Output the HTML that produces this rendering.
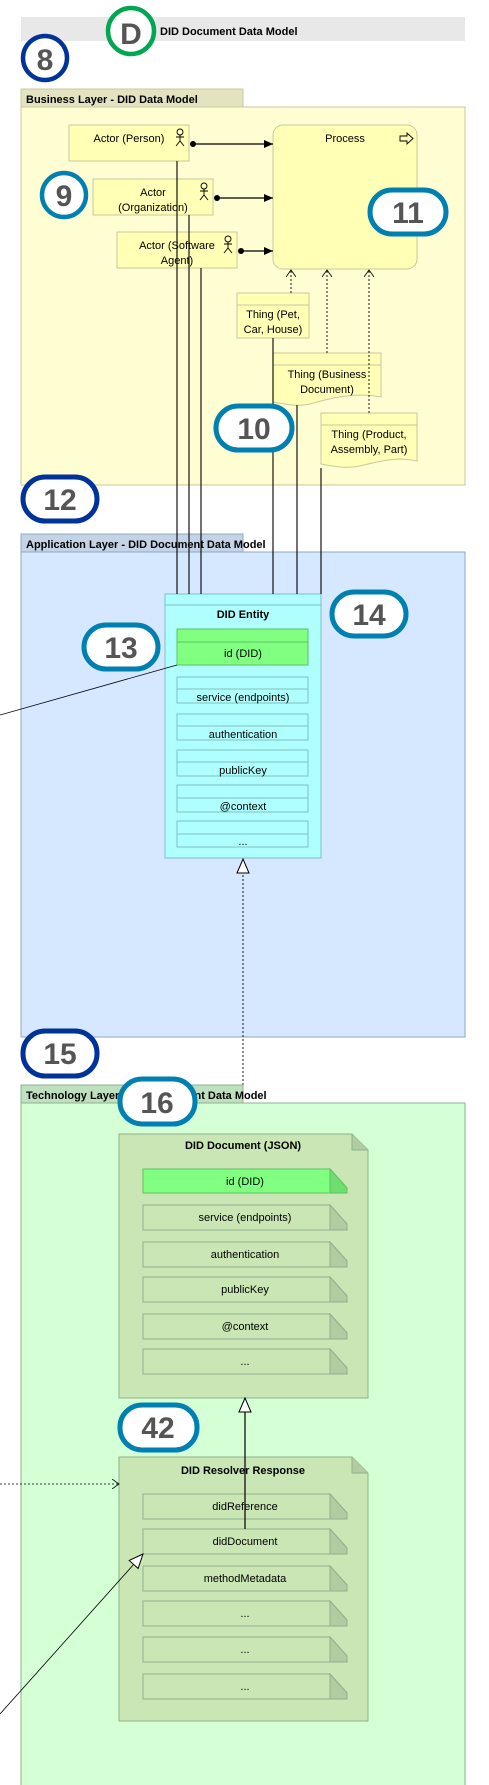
<!DOCTYPE html>
<html><head><meta charset="utf-8"><style>
html,body{margin:0;padding:0;background:#fff;width:489px;height:1785px;overflow:hidden}
svg{display:block}
text{font-family:"Liberation Sans","DejaVu Sans",sans-serif;font-size:11px;fill:#000}
.b{font-weight:bold}
.n{font-weight:bold;font-size:30px;fill:#555}
</style></head><body>
<svg width="489" height="1785" viewBox="0 0 489 1785" xmlns="http://www.w3.org/2000/svg">
<defs>
<marker id="ah" markerWidth="10" markerHeight="8" refX="9" refY="4" orient="auto" markerUnits="userSpaceOnUse"><path d="M0,0 L9,4 L0,8 Z" fill="#000"/></marker>
<marker id="oa" markerWidth="8" markerHeight="10" refX="7" refY="5" orient="auto" markerUnits="userSpaceOnUse"><path d="M0,0 L7,5 L0,10" fill="none" stroke="#000" stroke-width="0.8"/></marker>
<marker id="tri" markerWidth="16" markerHeight="14" refX="15" refY="7" orient="auto" markerUnits="userSpaceOnUse"><path d="M1,1 L15,7 L1,13 Z" fill="#fff" stroke="#000" stroke-width="1"/></marker>
</defs>

<!-- title -->
<rect x="21" y="17" width="444" height="24" fill="#e8e8e8"/>
<text x="160" y="35" class="b" font-size="12">DID Document Data Model</text>
<circle cx="131" cy="31" r="23" fill="#fff" stroke="#00a650" stroke-width="4.5"/>
<text x="131" y="44" text-anchor="middle" class="n" font-size="38">D</text>
<circle cx="45" cy="58" r="22" fill="#fff" stroke="#003399" stroke-width="4.5"/>
<text x="45" y="70" text-anchor="middle" class="n" font-size="32">8</text>

<!-- business layer -->
<rect x="21" y="89" width="222" height="18" fill="#e3e3c0" stroke="#c8c8a0"/>
<text x="26" y="103" class="b">Business Layer - DID Data Model</text>
<rect x="21" y="107" width="444" height="378" fill="#fffdd2" stroke="#c8c8a0"/>

<rect x="69" y="125" width="120" height="36" fill="#ffffb5" stroke="#c8c8a0"/>
<text x="129" y="142" text-anchor="middle">Actor (Person)</text>
<rect x="93" y="179" width="120" height="36" fill="#ffffb5" stroke="#c8c8a0"/>
<text x="153" y="196" text-anchor="middle">Actor</text><text x="153" y="211" text-anchor="middle">(Organization)</text>
<rect x="117" y="232" width="120" height="36" fill="#ffffb5" stroke="#c8c8a0"/>
<text x="177" y="249" text-anchor="middle">Actor (Software</text><text x="177" y="264" text-anchor="middle">Agent)</text>
<g fill="none" stroke="#000" stroke-width="0.9">
<g id="st"><circle cx="180" cy="132" r="3"/><path d="M180,135 V141 M176,137 H184 M176,146 L180,141 L184,146"/></g>
<use href="#st" x="24" y="54"/><use href="#st" x="48" y="107"/>
</g>

<rect x="273" y="125" width="144" height="144" rx="10" fill="#ffffb5" stroke="#c8c8a0"/>
<text x="345" y="142" text-anchor="middle">Process</text>
<path d="M400,136 H407 V133 L413,138.5 L407,144 V141 H400 Z" fill="none" stroke="#000" stroke-width="0.9"/>

<g stroke="#000" stroke-width="1.2">
<line x1="193" y1="144" x2="273" y2="144" marker-end="url(#ah)"/>
<line x1="217" y1="198" x2="273" y2="198" marker-end="url(#ah)"/>
<line x1="241" y1="251" x2="273" y2="251" marker-end="url(#ah)"/>
</g>
<circle cx="193" cy="144" r="3" fill="#000"/><circle cx="217" cy="198" r="3" fill="#000"/><circle cx="241" cy="251" r="3" fill="#000"/>

<!-- things -->
<rect x="237" y="293" width="72" height="45" fill="#ffffb5" stroke="#c8c8a0"/>
<line x1="237" y1="305" x2="309" y2="305" stroke="#c8c8a0"/>
<text x="273" y="318" text-anchor="middle">Thing (Pet,</text><text x="273" y="333" text-anchor="middle">Car, House)</text>
<path d="M273,353 H381 V397 C355,392 330,398 310,404 C295,407 285,404 273,402 Z" fill="#ffffb5" stroke="#c8c8a0"/>
<line x1="273" y1="365" x2="381" y2="365" stroke="#c8c8a0"/>
<text x="327" y="378" text-anchor="middle">Thing (Business</text><text x="327" y="393" text-anchor="middle">Document)</text>
<path d="M321,413 H417 V461 C395,456 378,462 360,466 C345,469 333,466 321,464 Z" fill="#ffffb5" stroke="#c8c8a0"/>
<line x1="321" y1="425" x2="417" y2="425" stroke="#c8c8a0"/>
<text x="369" y="438" text-anchor="middle">Thing (Product,</text><text x="369" y="453" text-anchor="middle">Assembly, Part)</text>
<g stroke="#000" stroke-width="0.9" stroke-dasharray="2,2" fill="none">
<line x1="291" y1="293" x2="291" y2="270" marker-end="url(#oa)"/>
<line x1="327" y1="353" x2="327" y2="270" marker-end="url(#oa)"/>
<line x1="369" y1="413" x2="369" y2="270" marker-end="url(#oa)"/>
</g>

<!-- application layer -->
<rect x="21" y="534" width="222" height="18" fill="#c4d4e6" stroke="#90a8c0"/>
<rect x="21" y="552" width="444" height="485" fill="#d5e8ff" stroke="#90a8c0"/>
<text x="26" y="548" class="b">Application Layer - DID Document Data Model</text>

<rect x="165" y="594" width="156" height="264" fill="#b0ffff" stroke="#80c0c0"/>
<line x1="165" y1="605" x2="321" y2="605" stroke="#80c0c0"/>
<text x="243" y="618" text-anchor="middle" class="b">DID Entity</text>
<rect x="177" y="629" width="131" height="36" fill="#80ff80" stroke="#60c060"/>
<line x1="177" y1="642" x2="308" y2="642" stroke="#60c060"/>
<text x="243" y="657" text-anchor="middle">id (DID)</text>
<g fill="none" stroke="#80c0c0">
<rect x="177" y="677" width="131" height="26"/><line x1="177" y1="689" x2="308" y2="689"/>
<rect x="177" y="714" width="131" height="26"/><line x1="177" y1="726" x2="308" y2="726"/>
<rect x="177" y="750" width="131" height="26"/><line x1="177" y1="762" x2="308" y2="762"/>
<rect x="177" y="785" width="131" height="27"/><line x1="177" y1="798" x2="308" y2="798"/>
<rect x="177" y="821" width="131" height="26"/><line x1="177" y1="834" x2="308" y2="834"/>
</g>
<text x="243" y="701" text-anchor="middle">service (endpoints)</text>
<text x="243" y="738" text-anchor="middle">authentication</text>
<text x="243" y="774" text-anchor="middle">publicKey</text>
<text x="243" y="810" text-anchor="middle">@context</text>
<text x="243" y="845" text-anchor="middle">...</text>

<!-- vertical lines -->
<g stroke="#000" stroke-width="1.1">
<line x1="177" y1="161" x2="177" y2="594"/><line x1="189" y1="215" x2="189" y2="594"/><line x1="201" y1="268" x2="201" y2="594"/>
<line x1="273" y1="338" x2="273" y2="594"/><line x1="297" y1="405" x2="297" y2="594"/><line x1="321" y1="468" x2="321" y2="594"/>
</g>
<line x1="177" y1="665" x2="0" y2="715" stroke="#000" stroke-width="0.8"/>

<!-- dotted realization -->
<line x1="243" y1="1133" x2="243" y2="859" stroke="#000" stroke-width="0.9" stroke-dasharray="2,2" marker-end="url(#tri)"/>

<!-- technology layer -->
<rect x="21" y="1085" width="222" height="18" fill="#bfe0bf" stroke="#90b090"/>
<rect x="21" y="1103" width="444" height="690" fill="#d5ffd5" stroke="#90b090"/>
<text x="26" y="1099" class="b">Technology Layer - DID Document Data Model</text>

<g id="doc1">
<path d="M119,1134 H352 L368,1150 V1398 H119 Z" fill="#c9e6b4" stroke="#90b090"/>
<path d="M352,1134 V1150 H368" fill="#b0cca0" stroke="#90b090"/>
</g>
<text x="243" y="1149" text-anchor="middle" class="b">DID Document (JSON)</text>
<g stroke="#90b090">
<path d="M143,1169 H330 L347,1188 V1193 H143 Z" fill="#80ff80" stroke="#60c060"/>
<path d="M330,1169 L347,1188 V1193 H330 Z" fill="#70dd70" stroke="#60c060"/>
</g>
<text x="245" y="1185" text-anchor="middle">id (DID)</text>

<g id="it" stroke="#90b090">
<path d="M143,1205 H330 L347,1224 V1230 H143 Z" fill="#c9e6b4"/>
<path d="M330,1205 L347,1224 V1230 H330 Z" fill="#b0cca0"/>
</g>
<use href="#it" y="37"/><use href="#it" y="72"/><use href="#it" y="109"/><use href="#it" y="144"/>
<text x="245" y="1221" text-anchor="middle">service (endpoints)</text>
<text x="245" y="1258" text-anchor="middle">authentication</text>
<text x="245" y="1293" text-anchor="middle">publicKey</text>
<text x="245" y="1330" text-anchor="middle">@context</text>
<text x="245" y="1365" text-anchor="middle">...</text>

<path d="M119,1457 H352 L368,1473 V1721 H119 Z" fill="#c9e6b4" stroke="#90b090"/>
<path d="M352,1457 V1473 H368" fill="#b0cca0" stroke="#90b090"/>
<text x="243" y="1474" text-anchor="middle" class="b">DID Resolver Response</text>
<use href="#it" y="289"/><use href="#it" y="324"/><use href="#it" y="361"/><use href="#it" y="396"/><use href="#it" y="432"/><use href="#it" y="469"/>
<text x="245" y="1510" text-anchor="middle">didReference</text>
<text x="245" y="1545" text-anchor="middle">didDocument</text>
<text x="245" y="1582" text-anchor="middle">methodMetadata</text>
<text x="245" y="1617" text-anchor="middle">...</text>
<text x="245" y="1653" text-anchor="middle">...</text>
<text x="245" y="1690" text-anchor="middle">...</text>

<line x1="245" y1="1529" x2="245" y2="1398" stroke="#000" stroke-width="1.2" marker-end="url(#tri)"/>
<line x1="0" y1="1484" x2="119" y2="1484" stroke="#000" stroke-width="0.8" stroke-dasharray="2,2" marker-end="url(#oa)"/>
<line x1="0" y1="1714" x2="143" y2="1554" stroke="#000" stroke-width="0.8" marker-end="url(#tri)"/>

<!-- callouts -->
<circle cx="64" cy="195" r="22" fill="#fff" stroke="#0080b0" stroke-width="4.5"/>
<text x="64" y="206" text-anchor="middle" class="n">9</text>
<g fill="#fff" stroke-width="5">
<rect x="370" y="190" width="76" height="44" rx="22" stroke="#0080b0"/>
<rect x="216" y="406" width="76" height="44" rx="22" stroke="#0080b0"/>
<rect x="23" y="477" width="74" height="44" rx="22" stroke="#003399"/>
<rect x="84" y="625" width="74" height="44" rx="22" stroke="#0080b0"/>
<rect x="332" y="592" width="74" height="44" rx="22" stroke="#0080b0"/>
<rect x="23" y="1031" width="74" height="45" rx="22" stroke="#003399"/>
<rect x="120" y="1079" width="75" height="45" rx="22" stroke="#0080b0"/>
<rect x="120" y="1405" width="77" height="45" rx="22" stroke="#0080b0"/>
</g>
<text x="408" y="223" text-anchor="middle" class="n">11</text>
<text x="254" y="439" text-anchor="middle" class="n">10</text>
<text x="60" y="510" text-anchor="middle" class="n">12</text>
<text x="121" y="658" text-anchor="middle" class="n">13</text>
<text x="369" y="625" text-anchor="middle" class="n">14</text>
<text x="60" y="1064" text-anchor="middle" class="n">15</text>
<text x="157" y="1113" text-anchor="middle" class="n">16</text>
<text x="158" y="1438" text-anchor="middle" class="n">42</text>
</svg>
</body></html>
